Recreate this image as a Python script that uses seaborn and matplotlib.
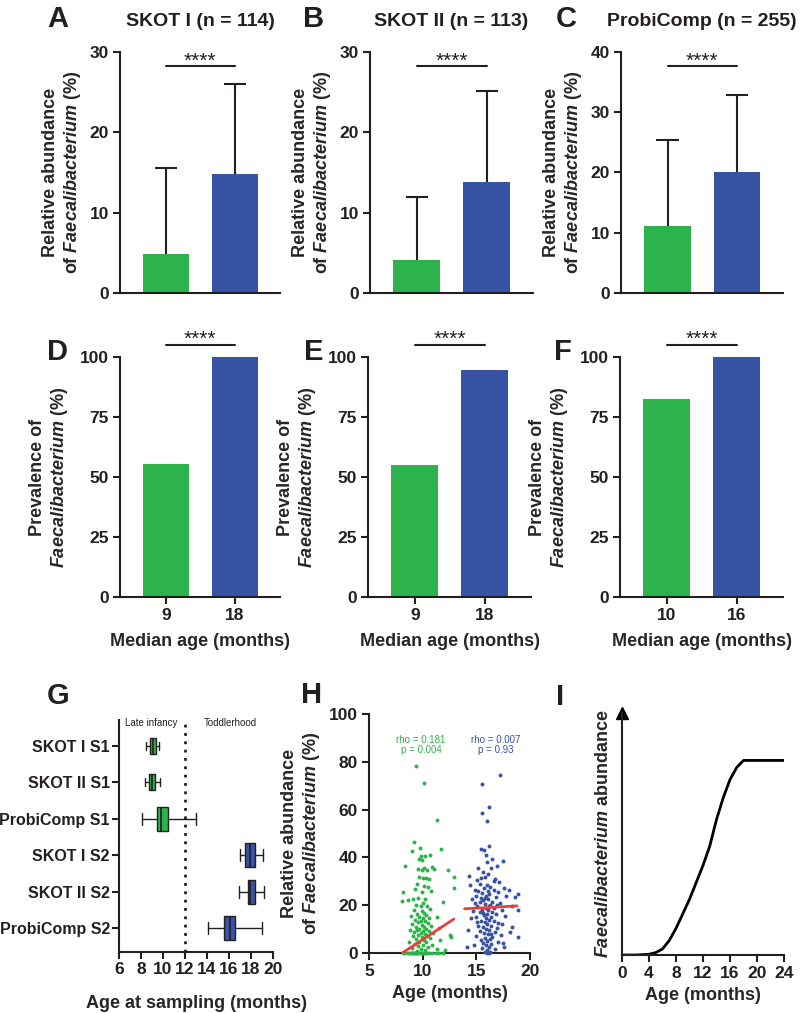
import numpy as np
import pandas as pd
import matplotlib
matplotlib.use('Agg')
import matplotlib.pyplot as plt
import seaborn as sns

# ---------- style ----------
sns.set_theme(style='ticks')
plt.rcParams['font.family'] = ['Liberation Sans', 'DejaVu Sans']
plt.rcParams['font.weight'] = 'bold'
plt.rcParams['axes.labelweight'] = 'bold'
plt.rcParams['mathtext.fontset'] = 'custom'
plt.rcParams['mathtext.it'] = 'Liberation Sans:italic:bold'
plt.rcParams['mathtext.rm'] = 'Liberation Sans:bold'
plt.rcParams['axes.linewidth'] = 1.5
plt.rcParams['xtick.labelsize'] = 12.5
plt.rcParams['ytick.labelsize'] = 12.5
plt.rcParams['axes.labelsize'] = 13
plt.rcParams['axes.edgecolor'] = '#231f20'
plt.rcParams['xtick.color'] = '#231f20'
plt.rcParams['ytick.color'] = '#231f20'
plt.rcParams['text.color'] = '#231f20'

GREEN = '#2db34b'
BLUE = '#3953a4'
RED = '#e8413c'
DARK = '#231f20'

# ---------- data ----------
# top row: relative abundance (mean and upper SD)
cohorts = ['SKOT I (n = 114)', 'SKOT II (n = 113)', 'ProbiComp (n = 255)']
abund_mean = [[4.9, 14.8], [4.15, 13.8], [11.2, 20.1]]
abund_upper = [[15.6, 26.0], [11.9, 25.1], [25.4, 32.8]]
abund_ymax = [30, 30, 40]

# middle row: prevalence
median_age = [['9', '18'], ['9', '18'], ['10', '16']]
prevalence = [[55.3, 100.0], [54.9, 94.7], [82.6, 100.0]]

# panel G: sampling age distribution (whisker low, q1, median, q3, whisker high)
g_groups = ['SKOT I S1', 'SKOT II S1', 'ProbiComp S1', 'SKOT I S2', 'SKOT II S2', 'ProbiComp S2']
g_low = [8.48, 8.36, 8.12, 17.03, 16.90, 14.12]
g_q1 = [8.85, 8.73, 9.48, 17.48, 17.76, 15.58]
g_med = [9.10, 8.97, 9.82, 17.88, 17.94, 16.06]
g_q3 = [9.33, 9.24, 10.45, 18.33, 18.36, 16.50]
g_high = [9.64, 9.76, 12.97, 19.09, 19.15, 18.97]
g_width = [0.44, 0.44, 0.66, 0.66, 0.66, 0.66]

# panel H: age vs relative abundance
green_age = [8.2, 8.4, 8.6, 8.8, 8.9, 9.0, 9.1, 9.2, 9.3, 9.4, 9.5, 9.6, 9.7, 9.8, 9.9,
             10.0, 10.1, 10.2, 10.4, 10.6, 10.9, 11.2, 11.5, 11.9,
             9.4, 10.1, 11.3, 9.2, 9.75, 11.7, 9.0, 9.8, 9.7, 10.2, 10.7, 9.9, 8.35, 9.6,
             9.9, 10.1, 10.4, 10.9, 11.1, 9.65, 10.0, 10.3, 10.6, 12.4, 12.9, 12.9, 9.5,
             10.15, 10.5, 8.2, 9.3, 9.9, 10.8, 8.6, 8.1, 11.9, 9.1, 9.6, 10.2, 10.0, 9.4,
             9.8, 10.4, 10.7, 9.2, 9.9, 10.1, 9.5, 10.3, 8.9, 9.7, 10.0, 10.6, 11.3, 9.3,
             9.8, 10.2, 9.6, 10.5, 9.0, 9.9, 10.8, 9.4, 10.1, 9.7, 10.3, 11.5, 8.8, 9.5,
             10.0, 10.6, 9.2, 9.8, 10.2, 11.0, 9.6, 10.4, 12.5, 12.6, 9.1, 9.9, 10.7, 9.4,
             10.1, 11.6, 9.7, 10.3, 8.7, 9.3, 10.0, 10.9, 9.6, 10.5, 9.0, 9.85, 11.3, 10.2,
             9.5, 12.1]
green_val = [0, 0, 0, 0, 0, 0, 0, 0, 0, 0, 0, 0, 0, 0, 0,
             0, 0, 0, 0, 0, 0, 0, 0, 0,
             78.4, 71.3, 55.6, 46.6, 43.8, 43.5, 42.8, 40.5, 39.5, 40.7, 40.8, 38.8, 36.4, 35.2,
             34.8, 35.5, 34.6, 36.0, 35.0, 31.7, 31.5, 31.3, 30.8, 34.6, 31.7, 27.0, 29.0,
             28.0, 27.5, 25.5, 26.8, 25.5, 26.0, 22.0, 21.8, 21.5, 22.5, 23.0, 22.8, 21.0, 20.0,
             19.5, 19.8, 18.5, 18.0, 17.5, 16.8, 16.2, 16.0, 15.5, 15.2, 14.8, 14.5, 15.0, 14.0,
             13.5, 13.2, 12.8, 12.5, 12.0, 11.8, 11.5, 11.0, 10.8, 10.2, 10.0, 10.5, 9.8, 9.5,
             9.2, 9.0, 8.6, 8.3, 8.0, 8.5, 7.5, 7.2, 7.5, 6.8, 7.0, 6.5, 6.2, 5.8,
             5.5, 5.5, 4.8, 4.5, 4.5, 3.8, 3.5, 3.2, 2.8, 2.5, 2.2, 1.8, 1.5, 1.2,
             0.8, 1.2]
blue_age = [17.2, 15.5, 16.2, 15.5, 16.0, 16.2, 15.4, 15.7, 14.3, 17.5, 18.9, 18.85, 14.1,
            17.6, 18.0, 18.6, 18.1, 17.5, 14.5, 14.6, 14.4, 15.1, 16.9, 16.5, 15.9, 16.4,
            15.6, 16.1, 15.8, 16.7, 15.3, 16.0, 16.3, 15.7, 16.6, 15.2, 17.0, 15.5, 16.2,
            15.9, 16.8, 15.4, 16.1, 15.6, 16.5, 14.9, 15.8, 16.3, 17.2, 15.1, 15.9, 16.6,
            15.5, 16.1, 17.4, 15.3, 16.0, 16.8, 15.7, 16.4, 15.0, 17.7, 15.9, 16.2, 15.4,
            16.6, 15.8, 17.0, 16.0, 15.2, 16.4, 15.6, 16.9, 18.3, 15.9, 16.2, 15.3, 16.7,
            15.7, 16.1, 17.3, 15.0, 16.5, 15.8, 16.3, 15.4, 16.0, 17.0, 15.6, 16.4, 14.8,
            15.9, 16.2, 15.5, 16.7, 16.0, 15.8, 16.3, 17.8, 18.3, 18.9, 14.7, 14.2, 17.6,
            16.6, 15.2, 17.1, 16.0, 14.9, 15.0, 17.4, 16.9, 15.3, 16.5, 15.6, 16.2, 15.8,
            16.1, 15.4, 16.4, 15.1, 15.95, 16.15]
blue_val = [74.3, 70.8, 61.0, 58.7, 55.2, 44.9, 43.4, 43.1, 32.4, 38.4, 24.5, 6.7, 2.6,
            27.0, 26.5, 23.5, 8.8, 4.2, 14.5, 22.5, 28.5, 30.6, 36.5, 39.5, 41.0, 35.5,
            34.0, 33.0, 32.0, 31.0, 29.0, 28.5, 27.5, 27.0, 26.5, 26.0, 25.5, 25.0, 24.5,
            24.0, 23.5, 23.0, 22.5, 22.0, 21.5, 21.0, 20.5, 20.2, 21.0, 19.5, 19.0, 18.8,
            18.2, 17.8, 18.0, 17.0, 16.5, 16.2, 15.8, 15.2, 15.0, 15.5, 14.5, 14.0, 13.5,
            13.2, 12.8, 12.5, 12.0, 11.5, 11.2, 10.8, 10.5, 11.0, 10.0, 9.5, 9.0, 8.8,
            8.2, 7.8, 7.5, 7.2, 6.8, 6.2, 5.8, 5.5, 5.0, 4.8, 4.2, 3.8, 3.5,
            3.2, 2.5, 2.0, 1.8, 1.2, 0.5, 0.3, 24.0, 19.5, 18.0, 17.5, 9.5, 2.5,
            30.0, 35.5, 29.5, 38.0, 26.5, 24.0, 12.0, 20.0, 21.5, 17.0, 16.8, 19.5, 23.2,
            26.0, 31.5, 8.0, 13.0, 0.0, 0.0]
green_fit_age = [8.1, 12.9]
green_fit_val = [0.0, 14.2]
blue_fit_age = [13.9, 18.8]
blue_fit_val = [18.5, 19.7]

# panel I: conceptual abundance curve
curve_age = [0, 2, 4, 5, 6, 7, 8, 9, 10, 11, 12, 13, 14, 15, 16, 17, 18, 20, 22, 24]
curve_val = [0, 0, 0.3, 1, 2.5, 6, 11, 17, 23, 30, 37, 45, 56, 65, 72.5, 77.5, 80.4, 80.4, 80.4, 80.4]

# ---------- figure ----------
W, H = 800, 1013
fig = plt.figure(figsize=(W / 100, H / 100), dpi=100)


def add_ax(left, top, right, bottom):
    return fig.add_axes([left / W, 1 - bottom / H, (right - left) / W, (bottom - top) / H])


def letter(x, y, s):
    fig.text(x / W, 1 - y / H, s, fontsize=21, fontweight='bold', ha='center', va='center')


def sig_bar(ax, y):
    ax.plot([0, 1], [y, y], color=DARK, lw=1.5, clip_on=False)
    ax.text(0.5, y, '****', ha='center', va='baseline', fontsize=15, fontweight='normal',
            clip_on=False)


def upper_err(ax, means, uppers):
    # one-sided (upper) error bars with caps
    ax.vlines([0, 1], means, uppers, color=DARK, lw=1.5, zorder=3)
    ax.hlines(uppers, [-0.16, 0.84], [0.16, 1.16], color=DARK, lw=1.5, zorder=3)


def style(ax):
    sns.despine(ax=ax)
    ax.tick_params(width=1.5, length=5, pad=3)


ylab_abund = 'Relative abundance\nof $\\mathit{Faecalibacterium}$ (%)'
ylab_prev = 'Prevalence of\n$\\mathit{Faecalibacterium}$ (%)'

top_pos = [(120, 52, 280, 293), (370, 52, 533, 293), (621, 52, 783, 293)]
mid_pos = [(120, 357, 280, 597), (368, 357, 531, 597), (620, 357, 783, 597)]
letters_top = [(58, 19, 'A'), (314, 19, 'B'), (566, 19, 'C')]
letters_mid = [(58, 352, 'D'), (314, 352, 'E'), (563, 352, 'F')]
title_x = [200, 451, 702]

for i in range(3):
    # top row
    ax = add_ax(*top_pos[i])
    df = pd.DataFrame({'grp': ['a', 'b'], 'val': abund_mean[i]})
    sns.barplot(data=df, x='grp', y='val', hue='grp', palette=[GREEN, BLUE],
                order=['a', 'b'], hue_order=['a', 'b'], width=0.67, saturation=1,
                legend=False, linewidth=0, ax=ax)
    upper_err(ax, abund_mean[i], abund_upper[i])
    ax.set_xlim(-0.67, 1.66)
    ax.set_ylim(0, abund_ymax[i])
    ax.set_yticks(np.arange(0, abund_ymax[i] + 1, 10))
    style(ax)
    ax.tick_params(axis='x', length=0, labelbottom=False)
    ax.set_xlabel('')
    ax.set_ylabel(ylab_abund, labelpad=5, linespacing=1.2)
    sig_bar(ax, abund_ymax[i] * 0.94)
    fig.text(title_x[i] / W, 1 - 22 / H, cohorts[i], fontsize=14, fontweight='bold',
             ha='center', va='center')
    letter(*letters_top[i])

    # middle row
    ax = add_ax(*mid_pos[i])
    df = pd.DataFrame({'age': median_age[i], 'val': prevalence[i]})
    sns.barplot(data=df, x='age', y='val', hue='age', palette=[GREEN, BLUE],
                order=median_age[i], hue_order=median_age[i], width=0.67, saturation=1,
                legend=False, linewidth=0, ax=ax)
    ax.set_xlim(-0.67, 1.66)
    ax.set_ylim(0, 100)
    ax.set_yticks([0, 25, 50, 75, 100])
    style(ax)
    ax.set_xlabel('Median age (months)', labelpad=7)
    ax.set_ylabel(ylab_prev, labelpad=7, linespacing=1.2)
    sig_bar(ax, 104.9)
    letter(*letters_mid[i])

# ---------- G ----------
ax = add_ax(119, 720, 273, 952)
stats = []
for k in range(len(g_groups)):
    stats.append(dict(whislo=g_low[k], q1=g_q1[k], med=g_med[k], q3=g_q3[k],
                      whishi=g_high[k], fliers=[], label=g_groups[k]))
bkw = dict(positions=range(len(g_groups)), widths=g_width, patch_artist=True,
           showfliers=False,
           boxprops=dict(linewidth=1, edgecolor=DARK),
           medianprops=dict(color=DARK, linewidth=1.2),
           whiskerprops=dict(color=DARK, linewidth=1),
           capprops=dict(color=DARK, linewidth=1))
try:
    parts = ax.bxp(stats, orientation='horizontal', **bkw)
except TypeError:
    parts = ax.bxp(stats, vert=False, **bkw)
for k, b in enumerate(parts['boxes']):
    b.set_facecolor(GREEN if k < 3 else BLUE)
ax.axvline(12, color=DARK, ls=(0, (1, 2)), lw=2)
ax.set_xlim(6, 20)
ax.set_xticks(range(6, 21, 2))
ax.set_ylim(5.65, -0.71)
ax.set_yticks(range(len(g_groups)))
ax.set_yticklabels(g_groups)
style(ax)
ax.tick_params(axis='x', pad=2)
ax.tick_params(axis='y', pad=1.5, labelsize=11.5)
ax.set_xlabel('Age at sampling (months)', labelpad=13)
ax.text(8.94, -0.62, 'Late infancy', fontsize=7, fontweight='normal', ha='center', va='center')
ax.text(16.1, -0.62, 'Toddlerhood', fontsize=7, fontweight='normal', ha='center', va='center')
letter(58, 696, 'G')

# ---------- H ----------
ax = add_ax(369, 714, 530, 953)
sns.scatterplot(x=green_age, y=green_val, color=GREEN, s=8, linewidth=0, ax=ax,
                clip_on=False, zorder=3)
sns.scatterplot(x=blue_age, y=blue_val, color=BLUE, s=8, linewidth=0, ax=ax,
                clip_on=False, zorder=3)
sns.lineplot(x=green_fit_age, y=green_fit_val, color=RED, lw=2, ax=ax, zorder=4)
sns.lineplot(x=blue_fit_age, y=blue_fit_val, color=RED, lw=2, ax=ax, zorder=4)
ax.set_xlim(5, 20)
ax.set_ylim(0, 100)
ax.set_xticks([5, 10, 15, 20])
ax.set_yticks(range(0, 101, 20))
style(ax)
ax.set_xlabel('Age (months)', labelpad=4)
ax.set_ylabel(ylab_abund, labelpad=5, linespacing=1.2)
ax.text(9.85, 87, 'rho = 0.181\np = 0.004', color=GREEN, fontsize=7, fontweight='normal',
        ha='center', va='center', linespacing=1.1)
ax.text(16.8, 87, 'rho = 0.007\np = 0.93', color=BLUE, fontsize=7, fontweight='normal',
        ha='center', va='center', linespacing=1.1)
letter(312, 695, 'H')

# ---------- I ----------
ax = add_ax(622, 713, 784, 955)
sns.lineplot(x=curve_age, y=curve_val, color='black', lw=2, ax=ax)
ax.set_xlim(0, 24)
ax.set_ylim(0, 100)
ax.set_xticks(range(0, 25, 4))
ax.set_yticks([])
style(ax)
ax.plot(0, 1, marker='^', color='black', ms=8, transform=ax.get_xaxis_transform(),
        clip_on=False)
ax.set_xlabel('Age (months)', labelpad=4)
ax.set_ylabel('$\\mathit{Faecalibacterium}$ abundance', labelpad=7)
letter(560, 697, 'I')

fig.savefig('out.png', dpi=100)
